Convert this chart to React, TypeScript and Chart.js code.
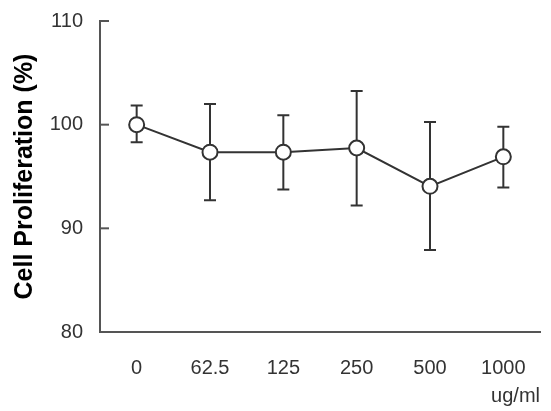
import React, { useEffect, useRef } from "react";
import { Chart, registerables } from "chart.js";

Chart.register(...registerables);

const categories = ["0", "62.5", "125", "250", "500", "1000"];
const means = [100, 97.35, 97.35, 97.75, 94.05, 96.9];
const upperErr = [101.85, 102.0, 100.9, 103.25, 100.25, 99.8];
const lowerErr = [98.3, 92.7, 93.75, 92.2, 87.9, 93.95];
const yTickValues = [80, 90, 100, 110];
const yTitle = "Cell Proliferation (%)";
const xUnit = "ug/ml";

const AXIS_COLOR = "#555555";
const LINE_COLOR = "#333333";
const FONT = "'Liberation Sans', Arial, Helvetica, sans-serif";

const errorBarPlugin = {
  id: "errorBars",
  beforeDatasetsDraw(chart: any) {
    const ctx = chart.ctx;
    const xs = chart.scales.x;
    const ys = chart.scales.y;
    ctx.save();
    ctx.strokeStyle = LINE_COLOR;
    ctx.lineWidth = 2;
    categories.forEach((_, i) => {
      const x = xs.getPixelForValue(i);
      const yTop = ys.getPixelForValue(upperErr[i]);
      const yBot = ys.getPixelForValue(lowerErr[i]);
      ctx.beginPath();
      ctx.moveTo(x, yTop);
      ctx.lineTo(x, yBot);
      ctx.moveTo(x - 6, yTop);
      ctx.lineTo(x + 6, yTop);
      ctx.moveTo(x - 6, yBot);
      ctx.lineTo(x + 6, yBot);
      ctx.stroke();
    });
    ctx.restore();
  },
  afterDraw(chart: any) {
    const ctx = chart.ctx;
    const ys = chart.scales.y;
    const left = chart.chartArea.left;
    ctx.save();
    ctx.strokeStyle = AXIS_COLOR;
    ctx.lineWidth = 2;
    yTickValues.slice(1).forEach((v) => {
      const y = ys.getPixelForValue(v);
      ctx.beginPath();
      ctx.moveTo(left, y);
      ctx.lineTo(left + 9, y);
      ctx.stroke();
    });
    ctx.restore();
  },
};

export default function App() {
  const ref = useRef<HTMLCanvasElement | null>(null);
  useEffect(() => {
    if (!ref.current) return;
    const chart = new Chart(ref.current, {
      type: "line",
      data: {
        labels: categories,
        datasets: [
          {
            data: means,
            borderColor: LINE_COLOR,
            borderWidth: 2,
            tension: 0,
            pointRadius: 7.5,
            pointBackgroundColor: "#ffffff",
            pointBorderColor: LINE_COLOR,
            pointBorderWidth: 2,
            fill: false,
          },
        ],
      },
      options: {
        responsive: false,
        animation: false,
        layout: { padding: { left: 0, right: 11, top: 21, bottom: 0 } },
        plugins: {
          legend: { display: false },
          tooltip: { enabled: false },
        },
        scales: {
          x: {
            offset: true,
            afterFit(scale: any) {
              scale.height = 79;
              scale.paddingLeft = 0;
              scale.paddingRight = 0;
            },
            grid: { display: false, drawTicks: false },
            border: { display: true, color: AXIS_COLOR, width: 2 },
            ticks: {
              padding: 24,
              color: "#333333",
              font: { family: FONT, size: 20 },
            },
            title: {
              display: true,
              text: xUnit,
              align: "end",
              color: "#333333",
              font: { family: FONT, size: 20 },
              padding: { top: 5, bottom: 3 },
            },
          },
          y: {
            min: 80,
            max: 110,
            afterFit(scale: any) {
              scale.width = 100;
              scale.paddingTop = 0;
              scale.paddingBottom = 0;
            },
            afterBuildTicks(scale: any) {
              scale.ticks = yTickValues.map((v) => ({ value: v }));
            },
            grid: { display: false, drawTicks: false },
            border: { display: true, color: AXIS_COLOR, width: 2 },
            ticks: {
              padding: 17,
              color: "#333333",
              font: { family: FONT, size: 20 },
            },
            title: {
              display: true,
              text: yTitle,
              color: "#000000",
              font: { family: FONT, size: 25, weight: "bold" },
              padding: { top: 10, bottom: 0 },
            },
          },
        },
      },
      plugins: [errorBarPlugin],
    } as any);
    return () => chart.destroy();
  }, []);
  return (
    <div style={{ position: "fixed", left: 0, top: 0, width: 551, height: 411, background: "#fff" }}>
      <canvas ref={ref} width={551} height={411} style={{ width: 551, height: 411 }} />
    </div>
  );
}
